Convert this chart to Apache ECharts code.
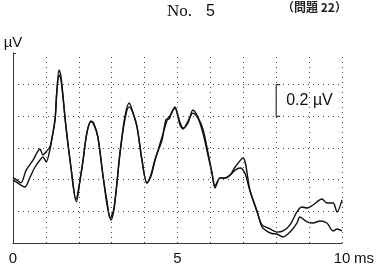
<!DOCTYPE html>
<html><head><meta charset="utf-8">
<script src="https://cdn.jsdelivr.net/npm/echarts@6/dist/echarts.min.js"></script>
<style>html,body{margin:0;padding:0;background:#fff}#c{width:378px;height:274px}</style>
</head><body><div id="c"></div>
<script>
// time in ms, amplitude in µV
const traceA = [
 [0,0.411],[0.1,0.40],[0.24,0.38],[0.4,0.46],[0.61,0.524],[0.82,0.594],[0.91,0.556],[1.0,0.575],[1.12,0.606],[1.17,0.65],[1.28,0.777],[1.33,0.95],[1.40,1.093],[1.46,1.05],[1.61,0.733],[1.76,0.48],[1.91,0.272],[2.04,0.40],[2.13,0.524],[2.25,0.70],[2.37,0.771],[2.45,0.76],[2.58,0.669],[2.74,0.417],[2.86,0.26],[2.95,0.158],[3.07,0.22],[3.25,0.568],[3.40,0.796],[3.53,0.884],[3.65,0.82],[3.77,0.733],[3.92,0.524],[4.07,0.379],[4.19,0.42],[4.32,0.524],[4.53,0.669],[4.71,0.789],[4.80,0.81],[4.92,0.859],[5.08,0.758],[5.17,0.726],[5.32,0.758],[5.47,0.840],[5.62,0.796],[5.78,0.714],[5.93,0.568],[6.05,0.442],[6.14,0.347],[6.29,0.411],[6.44,0.411],[6.60,0.429],[6.75,0.48],[6.99,0.537],[7.20,0.335],[7.42,0.196],[7.57,0.114],[7.75,0.095],[7.87,0.082],[8.02,0.069],[8.21,0.076],[8.42,0.114],[8.63,0.196],[8.78,0.227],[8.94,0.221],[9.12,0.240],[9.39,0.278],[9.54,0.253],[9.73,0.253],[9.85,0.196],[10,0.272]
];
const traceB = [
 [0,0.40],[0.1,0.385],[0.36,0.354],[0.52,0.417],[0.67,0.480],[0.82,0.524],[0.91,0.543],[1.01,0.512],[1.12,0.587],[1.21,0.69],[1.28,0.79],[1.33,0.95],[1.40,1.06],[1.46,1.03],[1.61,0.733],[1.76,0.48],[1.93,0.26],[2.04,0.40],[2.13,0.524],[2.25,0.70],[2.37,0.765],[2.45,0.75],[2.58,0.669],[2.74,0.417],[2.86,0.24],[2.98,0.145],[3.07,0.21],[3.25,0.56],[3.40,0.78],[3.53,0.86],[3.65,0.82],[3.77,0.733],[3.92,0.524],[4.07,0.379],[4.19,0.43],[4.32,0.53],[4.53,0.65],[4.65,0.78],[4.75,0.785],[4.83,0.83],[4.92,0.85],[5.08,0.745],[5.17,0.72],[5.32,0.77],[5.47,0.82],[5.62,0.79],[5.78,0.69],[5.93,0.55],[6.05,0.44],[6.14,0.36],[6.29,0.41],[6.44,0.41],[6.60,0.43],[6.75,0.46],[6.90,0.474],[7.05,0.44],[7.20,0.33],[7.42,0.20],[7.57,0.101],[7.75,0.07],[7.87,0.06],[8.02,0.057],[8.21,0.038],[8.42,0.069],[8.63,0.126],[8.72,0.164],[8.94,0.133],[9.12,0.126],[9.33,0.139],[9.54,0.126],[9.73,0.076],[9.85,0.088],[10,0.076]
];
const xGridTicks = [1,2,3,4,5,6,7,8,9,10];
const yGridTicks = [0.2,0.4,0.6,0.8,1.0];
const xTickLabels = {0:'0',5:'5',10:'10'};
const scaleBar = {x:8.0, y0:0.8, y1:1.0, label:'0.2 µV'};

const chart = echarts.init(document.getElementById('c'), null, {renderer:'canvas'});
const dotted = {color:'#444', width:1, type:[1,4]};
const gridMarks = xGridTicks.map(v=>({xAxis:v})).concat(yGridTicks.map(v=>({yAxis:v})));
chart.setOption({
  animation:false,
  grid:{left:13, right:36, top:53, bottom:31, containLabel:false},
  xAxis:{type:'value', min:0, max:10, interval:1,
    axisLine:{lineStyle:{color:'#333', width:1}}, axisTick:{show:false}, splitLine:{show:false},
    axisLabel:{margin:8, fontFamily:'Liberation Sans', fontSize:15, color:'#111',
      formatter:v=>xTickLabels[v]!==undefined?xTickLabels[v]:''}},
  yAxis:{type:'value', min:0, max:1.2, interval:0.2, name:'µV', nameLocation:'end', nameGap:3,
    nameTextStyle:{fontFamily:'Liberation Sans', fontSize:15, color:'#111', align:'center'},
    axisLine:{show:true, lineStyle:{color:'#333', width:1}},
    axisTick:{show:false}, axisLabel:{show:false}, splitLine:{show:false}},
  series:[
    {type:'line', data:traceA, showSymbol:false, smooth:0.3, lineStyle:{color:'#111', width:1.4}, z:3,
     markLine:{silent:true, symbol:'none', label:{show:false}, lineStyle:dotted, data:gridMarks}},
    {type:'line', data:traceB, showSymbol:false, smooth:0.3, lineStyle:{color:'#111', width:1.4}, z:3},
    {type:'line', data:[[scaleBar.x+0.12,scaleBar.y1],[scaleBar.x,scaleBar.y1],[scaleBar.x,scaleBar.y0],[scaleBar.x+0.12,scaleBar.y0]],
     showSymbol:false, lineStyle:{color:'#333', width:1.2}, z:4}
  ]
});
const pBar = chart.convertToPixel({gridIndex:0}, [scaleBar.x, (scaleBar.y0+scaleBar.y1)/2]);
const pTop = chart.convertToPixel({gridIndex:0}, [0, 1.2]);
const pEnd = chart.convertToPixel({gridIndex:0}, [10, 0]);
chart.setOption({graphic:[
  {type:'text', left:167, top:3, style:{text:'No.', font:'17px "Liberation Serif"', fill:'#111'}},
  {type:'text', left:206, top:4, style:{text:'5', font:'16px "Liberation Sans"', fill:'#111'}},
  {type:'text', left:282, top:1, style:{text:'（問題 22）', font:'bold 12px "Noto Sans CJK JP"', fill:'#222'}},
  {type:'line', shape:{x1:pTop[0], y1:pTop[1]+0.5, x2:pTop[0]+3, y2:pTop[1]+0.5}, style:{stroke:'#333', lineWidth:1}},
  {type:'text', x:pBar[0]+10, y:pBar[1], style:{text:scaleBar.label, font:'16px "Liberation Sans"', fill:'#111', verticalAlign:'middle'}},
  {type:'text', x:pEnd[0]+12, y:251, style:{text:'ms', font:'15px "Liberation Sans"', fill:'#111'}}
]});
</script></body></html>
